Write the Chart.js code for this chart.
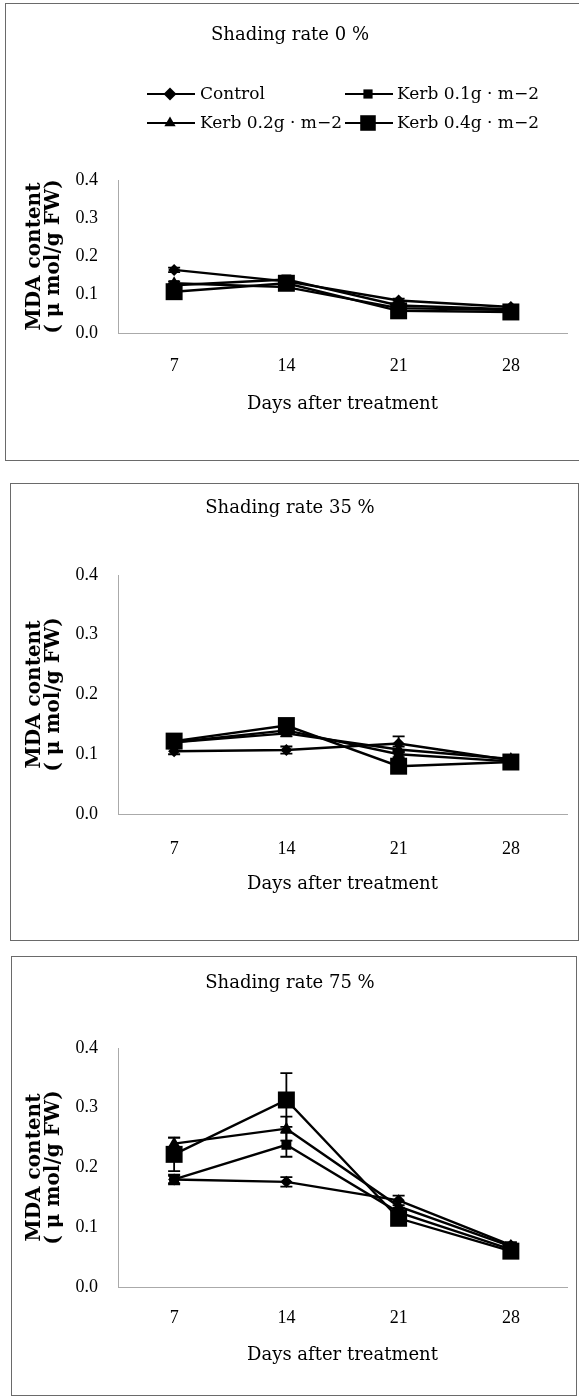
<!DOCTYPE html>
<html><head><meta charset="utf-8">
<script src="https://cdn.jsdelivr.net/npm/chart.js@4/dist/chart.umd.min.js"></script>
<style>
html,body{margin:0;padding:0;background:#fff;}
body{width:579px;height:1397px;position:relative;overflow:hidden;}
.panel{position:absolute;border:1px solid #6a6a6a;box-sizing:border-box;}
canvas{position:absolute;left:0;}
</style></head><body>
<div class="panel" style="left:5px;top:3px;width:580px;height:458px"></div>
<div class="panel" style="left:10px;top:483px;width:569px;height:458px"></div>
<div class="panel" style="left:11px;top:956px;width:566px;height:440px"></div>
<canvas id="c1" width="579" height="457" style="top:3px"></canvas>
<canvas id="c2" width="579" height="457" style="top:483px"></canvas>
<canvas id="c3" width="579" height="439" style="top:956px"></canvas>
<script>
// ---------- data ----------
const categories = ['7', '14', '21', '28'];
const seriesNames = ['Control', 'Kerb 0.1g \u00b7 m\u22122', 'Kerb 0.2g \u00b7 m\u22122', 'Kerb 0.4g \u00b7 m\u22122'];
const panelTitles = ['Shading rate 0 %', 'Shading rate 35 %', 'Shading rate 75 %'];
const yTickLabels = ['0.0', '0.1', '0.2', '0.3', '0.4'];
const xTitle = 'Days after treatment';
const yTitleLines = ['MDA content', '( \u03bc mol/g FW)'];

// Shading 0 %
const control0 = [0.165, 0.135, 0.085, 0.068];
const kerb01_0 = [0.125, 0.140, 0.072, 0.062];
const kerb02_0 = [0.130, 0.120, 0.065, 0.060];
const kerb04_0 = [0.108, 0.130, 0.058, 0.055];
const control0Err = [0.006, 0.005, 0.005, 0.004];
const kerb01_0Err = [0.005, 0.005, 0.005, 0.004];
const kerb02_0Err = [0.005, 0.005, 0.005, 0.004];
const kerb04_0Err = [0.005, 0.006, 0.005, 0.004];

// Shading 35 %
const control35 = [0.105, 0.107, 0.118, 0.090];
const kerb01_35 = [0.120, 0.140, 0.100, 0.088];
const kerb02_35 = [0.120, 0.135, 0.108, 0.092];
const kerb04_35 = [0.122, 0.148, 0.080, 0.087];
const control35Err = [0.005, 0.006, 0.012, 0.004];
const kerb01_35Err = [0.005, 0.005, 0.005, 0.004];
const kerb02_35Err = [0.005, 0.005, 0.005, 0.004];
const kerb04_35Err = [0.005, 0.006, 0.005, 0.004];

// Shading 75 %
const control75 = [0.180, 0.176, 0.145, 0.070];
const kerb01_75 = [0.180, 0.238, 0.125, 0.063];
const kerb02_75 = [0.240, 0.265, 0.135, 0.068];
const kerb04_75 = [0.222, 0.313, 0.115, 0.060];
const control75Err = [0.006, 0.008, 0.008, 0.005];
const kerb01_75Err = [0.008, 0.020, 0.008, 0.005];
const kerb02_75Err = [0.010, 0.020, 0.008, 0.005];
const kerb04_75Err = [0.028, 0.045, 0.008, 0.005];

// ---------- styles ----------
const markerStyles = [
  {pointStyle: 'rectRot', radius: 6},
  {pointStyle: 'rect', radius: 7},
  {pointStyle: 'triangle', radius: 7},
  {pointStyle: 'rect', radius: 12}
];

const panels = [
  {id: 'c1', top: 3, h: 457, chartTop: 180, chartBottom: 333, xLabelY: 366, xTitleY: 404, titleY: 35, legend: true,
   values: [control0, kerb01_0, kerb02_0, kerb04_0], errs: [control0Err, kerb01_0Err, kerb02_0Err, kerb04_0Err]},
  {id: 'c2', top: 483, h: 457, chartTop: 575, chartBottom: 814, xLabelY: 849, xTitleY: 884, titleY: 508, legend: false,
   values: [control35, kerb01_35, kerb02_35, kerb04_35], errs: [control35Err, kerb01_35Err, kerb02_35Err, kerb04_35Err]},
  {id: 'c3', top: 956, h: 439, chartTop: 1048, chartBottom: 1287, xLabelY: 1318, xTitleY: 1355, titleY: 983, legend: false,
   values: [control75, kerb01_75, kerb02_75, kerb04_75], errs: [control75Err, kerb01_75Err, kerb02_75Err, kerb04_75Err]}
];

const CHART_LEFT = 118, CHART_RIGHT = 572, W = 579;
const TEXT = '#000';

function drawMarker(ctx, style, r, x, y) {
  ctx.beginPath();
  if (style === 'rectRot') {
    ctx.moveTo(x, y - r); ctx.lineTo(x + r, y); ctx.lineTo(x, y + r); ctx.lineTo(x - r, y); ctx.closePath();
  } else if (style === 'rect') {
    const s = Math.SQRT1_2 * r; ctx.rect(x - s, y - s, 2 * s, 2 * s);
  } else if (style === 'triangle') {
    ctx.moveTo(x, y - r); ctx.lineTo(x + r * 0.87, y + r * 0.5); ctx.lineTo(x - r * 0.87, y + r * 0.5); ctx.closePath();
  }
  ctx.fillStyle = '#000'; ctx.fill();
}

const errorBars = {
  id: 'errorBars',
  beforeDatasetsDraw(chart) {
    const ctx = chart.ctx, xs = chart.scales.x, ys = chart.scales.y;
    ctx.save(); ctx.strokeStyle = '#000'; ctx.lineWidth = 1.8;
    chart.data.datasets.forEach(ds => {
      ds.data.forEach((v, i) => {
        const e = ds.errs[i];
        const x = xs.getPixelForValue(i);
        const y1 = ys.getPixelForValue(v + e), y2 = ys.getPixelForValue(v - e);
        ctx.beginPath();
        ctx.moveTo(x, y1); ctx.lineTo(x, y2);
        ctx.moveTo(x - 6, y1); ctx.lineTo(x + 6, y1);
        ctx.moveTo(x - 6, y2); ctx.lineTo(x + 6, y2);
        ctx.stroke();
      });
    });
    ctx.restore();
  }
};

const decor = {
  id: 'decor',
  afterDraw(chart, args, opts) {
    const ctx = chart.ctx;
    ctx.save();
    ctx.fillStyle = TEXT;
    ctx.font = '18px "DejaVu Serif"';
    ctx.textAlign = 'center'; ctx.textBaseline = 'middle';
    ctx.fillText(opts.title, 290, opts.titleY);
    if (opts.legend) {
      const items = [
        {lx: 147, mx: 170, tx: 200, row: 0},
        {lx: 345, mx: 368, tx: 397, row: 0},
        {lx: 147, mx: 170, tx: 200, row: 1},
        {lx: 345, mx: 368, tx: 397, row: 1}
      ];
      const rowY = [91, 120];
      ctx.font = '17px "DejaVu Serif"';
      ctx.textAlign = 'left';
      chart.data.datasets.forEach((ds, i) => {
        const it = items[i], y = rowY[it.row];
        ctx.strokeStyle = '#000'; ctx.lineWidth = 2.2;
        ctx.beginPath(); ctx.moveTo(it.lx, y); ctx.lineTo(it.lx + 48, y); ctx.stroke();
        drawMarker(ctx, markerStyles[i].pointStyle, i === 3 ? 11 : 6.5, it.mx, y);
        ctx.fillStyle = TEXT;
        ctx.fillText(ds.label, it.tx, y + 1);
      });
    }
    ctx.restore();
  }
};

panels.forEach((p, pi) => {
  const ct = p.chartTop - p.top, cb = p.chartBottom - p.top;
  const xl = p.xLabelY - p.top, xt = p.xTitleY - p.top;
  new Chart(document.getElementById(p.id), {
    type: 'line',
    data: {
      labels: categories,
      datasets: seriesNames.map((name, i) => ({
        label: name,
        data: p.values[i],
        errs: p.errs[i],
        borderColor: '#000',
        borderWidth: 2.4,
        backgroundColor: '#000',
        pointBackgroundColor: '#000',
        pointBorderColor: '#000',
        pointBorderWidth: 0,
        pointStyle: markerStyles[i].pointStyle,
        pointRadius: markerStyles[i].radius,
        tension: 0,
        fill: false
      }))
    },
    options: {
      responsive: false,
      animation: false,
      devicePixelRatio: 1,
      events: [],
      layout: {padding: {top: ct, left: 0, right: W - CHART_RIGHT, bottom: 0}},
      plugins: {
        legend: {display: false},
        title: {display: false},
        tooltip: {enabled: false},
        decor: {title: panelTitles[pi], titleY: p.titleY - p.top, legend: p.legend}
      },
      scales: {
        x: {
          type: 'category',
          offset: true,
          grid: {display: false, drawTicks: false},
          border: {display: true, color: '#aaaaaa', dash: [1, 3], width: 1},
          ticks: {padding: xl - cb - 10.8, font: {family: 'Liberation Serif', size: 18}, color: TEXT, maxRotation: 0, autoSkip: false},
          title: {display: true, text: xTitle, color: TEXT,
                  font: {family: 'DejaVu Serif', size: 18, lineHeight: 1.2},
                  padding: {top: 0, bottom: p.h - xt - 10.8}},
          afterFit: s => { s.height = p.h - cb; }
        },
        y: {
          min: 0, max: 0.4,
          grid: {display: false, drawTicks: false},
          border: {display: true, color: '#aaaaaa', dash: [1, 3], width: 1},
          ticks: {stepSize: 0.1, padding: 20, color: TEXT,
                  font: {family: 'Liberation Serif', size: 18},
                  callback: (v, i) => yTickLabels[i]},
          title: {display: true, text: yTitleLines, color: TEXT,
                  font: {family: 'DejaVu Serif', size: 20, weight: 'bold', lineHeight: 0.95},
                  padding: {top: 25.5, bottom: 0}},
          afterFit: s => { s.width = CHART_LEFT; }
        }
      }
    },
    plugins: [errorBars, decor]
  });
});
</script>
</body></html>
